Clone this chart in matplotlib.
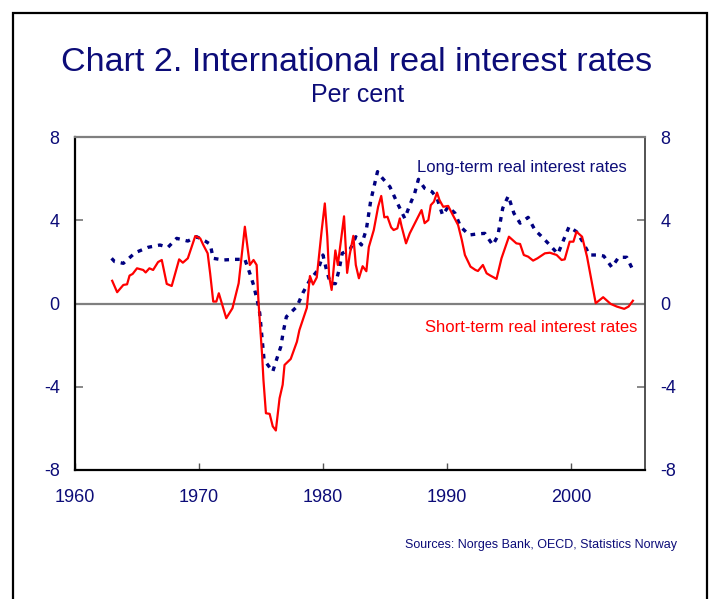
import matplotlib
matplotlib.use("Agg")
import matplotlib.pyplot as plt
from matplotlib.patches import Rectangle

plt.rcParams['font.family'] = ['Liberation Sans', 'DejaVu Sans']
plt.rcParams['axes.unicode_minus'] = False

# Short-term real interest rates (year, per cent)
short_years = [1963.0, 1963.4, 1963.9, 1964.2, 1964.4, 1964.65, 1965.0, 1965.5, 1965.7, 1966.0,
               1966.3, 1966.7, 1967.0, 1967.4, 1967.8, 1968.4, 1968.7, 1969.1, 1969.7, 1970.1,
               1970.35, 1970.7, 1970.9, 1971.15, 1971.4, 1971.6, 1972.2, 1972.7, 1973.2, 1973.7,
               1974.1, 1974.4, 1974.65, 1974.8, 1975.1, 1975.2, 1975.4, 1975.7, 1975.95, 1976.2,
               1976.5, 1976.75, 1976.9, 1977.4, 1977.9, 1978.1, 1978.7, 1978.95, 1979.2, 1979.5,
               1979.9, 1980.15, 1980.35, 1980.5, 1980.7, 1981.0, 1981.2, 1981.7, 1981.95, 1982.15,
               1982.45, 1982.65, 1982.9, 1983.2, 1983.5, 1983.7, 1984.1, 1984.45, 1984.7, 1984.95,
               1985.2, 1985.5, 1985.7, 1986.0, 1986.2, 1986.35, 1986.7, 1987.0, 1987.95, 1988.2,
               1988.5, 1988.7, 1988.95, 1989.2, 1989.4, 1989.7, 1990.1, 1990.4, 1990.9, 1991.2,
               1991.45, 1991.9, 1992.3, 1992.5, 1992.9, 1993.2, 1993.5, 1994.0, 1994.4, 1995.0,
               1995.6, 1995.9, 1996.2, 1996.55, 1996.95, 1997.3, 1997.9, 1998.3, 1998.85, 1999.25,
               1999.5, 1999.9, 2000.2, 2000.45, 2000.9, 2001.3, 2001.6, 2002.0, 2002.6, 2003.2,
               2003.7, 2004.3, 2004.65, 2005.0]
short_rates = [1.1, 0.55, 0.9, 0.93, 1.35, 1.43, 1.7, 1.62, 1.5, 1.7,
               1.62, 2.0, 2.1, 0.95, 0.85, 2.13, 1.97, 2.18, 3.25, 3.14,
               2.82, 2.42, 1.46, 0.1, 0.1, 0.5, -0.7, -0.22, 0.98, 3.7,
               1.86, 2.1, 1.86, 0.1, -2.55, -3.67, -5.27, -5.3, -5.9, -6.1,
               -4.55, -3.9, -2.95, -2.66, -1.83, -1.27, -0.2, 1.33, 0.92, 1.26,
               3.54, 4.82, 3.22, 1.3, 0.66, 2.56, 1.86, 4.2, 1.48, 2.33,
               3.26, 1.86, 1.22, 1.8, 1.56, 2.72, 3.54, 4.66, 5.18, 4.15,
               4.18, 3.67, 3.54, 3.62, 4.1, 3.7, 2.9, 3.38, 4.5, 3.87,
               4.02, 4.74, 4.9, 5.34, 4.98, 4.66, 4.7, 4.35, 3.78, 3.06,
               2.34, 1.78, 1.62, 1.57, 1.86, 1.46, 1.35, 1.19, 2.18, 3.22,
               2.9, 2.87, 2.34, 2.26, 2.07, 2.18, 2.42, 2.45, 2.34, 2.1,
               2.13, 2.98, 2.98, 3.46, 3.22, 2.26, 1.3, 0.02, 0.31, -0.01,
               -0.14, -0.25, -0.14, 0.14]

# Long-term real interest rates (year, per cent)
long_years = [1962.95, 1963.2, 1963.9, 1964.2, 1964.85, 1965.9, 1966.85, 1967.5, 1968.2, 1969.1,
              1969.8, 1970.5, 1970.9, 1971.15, 1971.95, 1972.9, 1973.7, 1974.1, 1974.4, 1974.75,
              1974.9, 1975.05, 1975.25, 1975.95, 1976.2, 1976.6, 1976.8, 1977.05, 1977.9, 1978.4,
              1978.95, 1979.6, 1980.0, 1980.3, 1980.6, 1981.0, 1981.3, 1981.55, 1982.2, 1982.65,
              1983.1, 1983.5, 1983.85, 1984.4, 1984.7, 1985.4, 1985.95, 1986.6, 1987.0, 1987.4,
              1987.7, 1988.2, 1988.8, 1989.2, 1989.65, 1990.1, 1990.65, 1991.1, 1991.8, 1992.4,
              1993.05, 1993.7, 1994.1, 1994.5, 1994.95, 1995.4, 1995.9, 1996.55, 1997.1, 1997.6,
              1998.3, 1998.95, 1999.35, 1999.85, 2000.45, 2000.95, 2001.5, 2002.2, 2002.65, 2003.3,
              2003.85, 2004.5, 2005.0]
long_rates = [2.18, 2.02, 1.94, 2.1, 2.45, 2.71, 2.82, 2.71, 3.14, 3.01,
              3.22, 3.01, 2.86, 2.18, 2.1, 2.13, 2.13, 1.46, 0.9, 0.02,
              -0.46, -1.42, -2.7, -3.27, -2.79, -2.07, -1.35, -0.63, -0.14, 0.54,
              1.14, 1.62, 2.34, 1.58, 0.98, 0.96, 1.62, 2.42, 2.62, 3.22,
              2.82, 3.57, 4.94, 6.35, 6.1, 5.62, 4.9, 4.1, 4.74, 5.31,
              5.98, 5.55, 5.38, 5.07, 4.26, 4.66, 4.35, 3.7, 3.3, 3.35,
              3.38, 2.82, 3.25, 4.59, 5.18, 4.35, 3.87, 4.15, 3.54, 3.25,
              2.82, 2.39, 2.98, 3.7, 3.46, 2.98, 2.34, 2.34, 2.29, 1.75,
              2.23, 2.23, 1.62]

x_ticks = [1960, 1970, 1980, 1990, 2000]
y_ticks = [-8, -4, 0, 4, 8]

navy = '#0c0c78'
fig = plt.figure(figsize=(7.1, 5.99), dpi=100)
ax = fig.add_axes([75 / 710, 1 - 470 / 599, (645.3 - 75) / 710, (470 - 137.3) / 599])

ax.axhline(0, color='#7f7f7f', lw=1.6, zorder=1)
ax.plot(long_years, long_rates, color='#000080', lw=2.4, ls=(0, (1.4, 1.8)), zorder=2)
ax.plot(short_years, short_rates, color='#ff0000', lw=1.6, zorder=3)

ax.set_xlim(1960, 2006)
ax.set_ylim(-8, 8)
ax.set_xticks(x_ticks)
ax.set_yticks(y_ticks)
ax.tick_params(axis='x', direction='in', length=5, width=1, color='#555555',
               labelcolor=navy, labelsize=13, pad=14)
ax.tick_params(axis='y', direction='in', length=6, width=1.3, color='#7f7f7f',
               labelcolor=navy, labelsize=13, pad=11, right=True, labelright=True)

ax.spines['left'].set_color('black')
ax.spines['left'].set_linewidth(1.6)
ax.spines['bottom'].set_color('black')
ax.spines['bottom'].set_linewidth(1.6)
ax.spines['top'].set_color('#7f7f7f')
ax.spines['top'].set_linewidth(1.6)
ax.spines['right'].set_color('#444444')
ax.spines['right'].set_linewidth(1.3)

fig.text(521.7 / 710, 1 - 171.7 / 599, 'Long-term real interest rates', fontsize=12,
         color=navy, ha='center', va='baseline')
fig.text(531 / 710, 1 - 331.7 / 599, 'Short-term real interest rates', fontsize=12,
         color='#ff0000', ha='center', va='baseline')

fig.text(357 / 710, 1 - 71 / 599, 'Chart 2. International real interest rates',
         fontsize=24.5, color=navy, ha='center', va='baseline')
fig.text(358 / 710, 1 - 102 / 599, 'Per cent', fontsize=18, color=navy,
         ha='center', va='baseline')
fig.text(541 / 710, 1 - 545 / 599, 'Sources: Norges Bank, OECD, Statistics Norway',
         fontsize=9, color=navy, ha='center', va='center')

fig.patches.append(Rectangle((13 / 710, -0.05), (707 - 13) / 710, 1.05 - 13 / 599,
                             transform=fig.transFigure, fill=False, ec='black', lw=1.6))

fig.savefig('out.png', dpi=100, facecolor='white')
